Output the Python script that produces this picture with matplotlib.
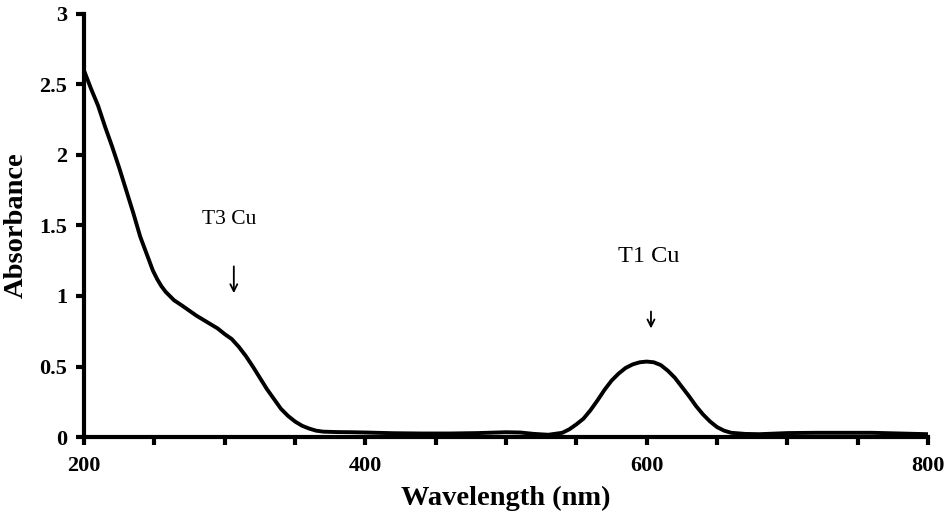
import matplotlib.pyplot as plt
from matplotlib.ticker import MultipleLocator

# Absorbance spectrum
wavelength = [200, 205, 210, 215, 220, 225, 230, 235, 240, 243, 246, 249, 252, 255,
              258, 261, 264, 267, 270, 275, 280, 285, 290, 295, 300, 305, 310, 315,
              320, 325, 330, 335, 340, 345, 350, 355, 360, 365, 370, 380, 390, 400,
              420, 440, 460, 480, 500, 510, 520, 530, 540, 545, 550, 555, 560, 565,
              570, 575, 580, 585, 590, 595, 600, 605, 610, 615, 620, 625, 630, 635,
              640, 645, 650, 655, 660, 670, 680, 700, 720, 740, 760, 780, 800]
absorbance = [2.60, 2.47, 2.35, 2.20, 2.06, 1.91, 1.75, 1.59, 1.42, 1.34, 1.26, 1.18, 1.12, 1.07,
              1.03, 1.00, 0.97, 0.95, 0.93, 0.895, 0.86, 0.83, 0.80, 0.77, 0.73, 0.695, 0.64, 0.575,
              0.50, 0.42, 0.34, 0.27, 0.20, 0.15, 0.11, 0.08, 0.06, 0.045, 0.038, 0.035, 0.034, 0.032,
              0.027, 0.025, 0.025, 0.028, 0.034, 0.032, 0.022, 0.016, 0.03, 0.055, 0.09, 0.13, 0.19, 0.26,
              0.335, 0.40, 0.45, 0.49, 0.515, 0.53, 0.535, 0.53, 0.51, 0.47, 0.42, 0.355, 0.29, 0.22,
              0.16, 0.11, 0.07, 0.045, 0.03, 0.022, 0.02, 0.028, 0.03, 0.03, 0.03, 0.025, 0.02]

yticks = [0, 0.5, 1, 1.5, 2, 2.5, 3]
ytick_labels = ["0", "0.5", "1", "1.5", "2", "2.5", "3"]
xticks = [200, 400, 600, 800]

# annotations: label, label x, label y, arrow x, arrow top, arrow bottom, font size
peaks = [("T3 Cu", 303, 1.54, 306.5, 1.21, 1.02, 15.5),
         ("T1 Cu", 601.5, 1.28, 603, 0.89, 0.77, 17.5)]

serif = ["Liberation Serif", "DejaVu Serif"]

fig = plt.figure(figsize=(9.5, 5.17), dpi=100)
ax = fig.add_axes([0.0884, 0.1547, 0.8886, 0.8183])

ax.plot(wavelength, absorbance, color="black", linewidth=2.8,
        solid_capstyle="round", solid_joinstyle="round")

ax.set_xlim(200, 800)
ax.set_ylim(0, 3)
ax.set_xticks(xticks)
ax.xaxis.set_minor_locator(MultipleLocator(50))
ax.set_yticks(yticks)
ax.set_yticklabels(ytick_labels)

for side in ["top", "right"]:
    ax.spines[side].set_visible(False)
for side in ["left", "bottom"]:
    ax.spines[side].set_linewidth(3)

ax.tick_params(axis="both", which="both", direction="out", length=6, width=3)
ax.tick_params(axis="x", which="major", pad=8)
ax.tick_params(axis="y", which="major", pad=6)
for lbl in ax.get_xticklabels() + ax.get_yticklabels():
    lbl.set_family(serif)
    lbl.set_fontweight("bold")
    lbl.set_fontsize(16)

ax.set_xlabel("Wavelength (nm)", family=serif, fontweight="bold", fontsize=20.5, labelpad=7)
ax.set_ylabel("Absorbance", family=serif, fontweight="bold", fontsize=20.5, labelpad=8)

for name, tx, ty, arr_x, arr_top, arr_bot, fs in peaks:
    ax.text(tx, ty, name, family=serif, fontsize=fs, ha="center", va="center")
    ax.annotate("", xy=(arr_x, arr_bot), xytext=(arr_x, arr_top),
                arrowprops=dict(arrowstyle="->,head_length=0.5,head_width=0.25",
                                color="black", linewidth=1.3, shrinkA=0, shrinkB=0))

fig.savefig("out.png", dpi=100)
